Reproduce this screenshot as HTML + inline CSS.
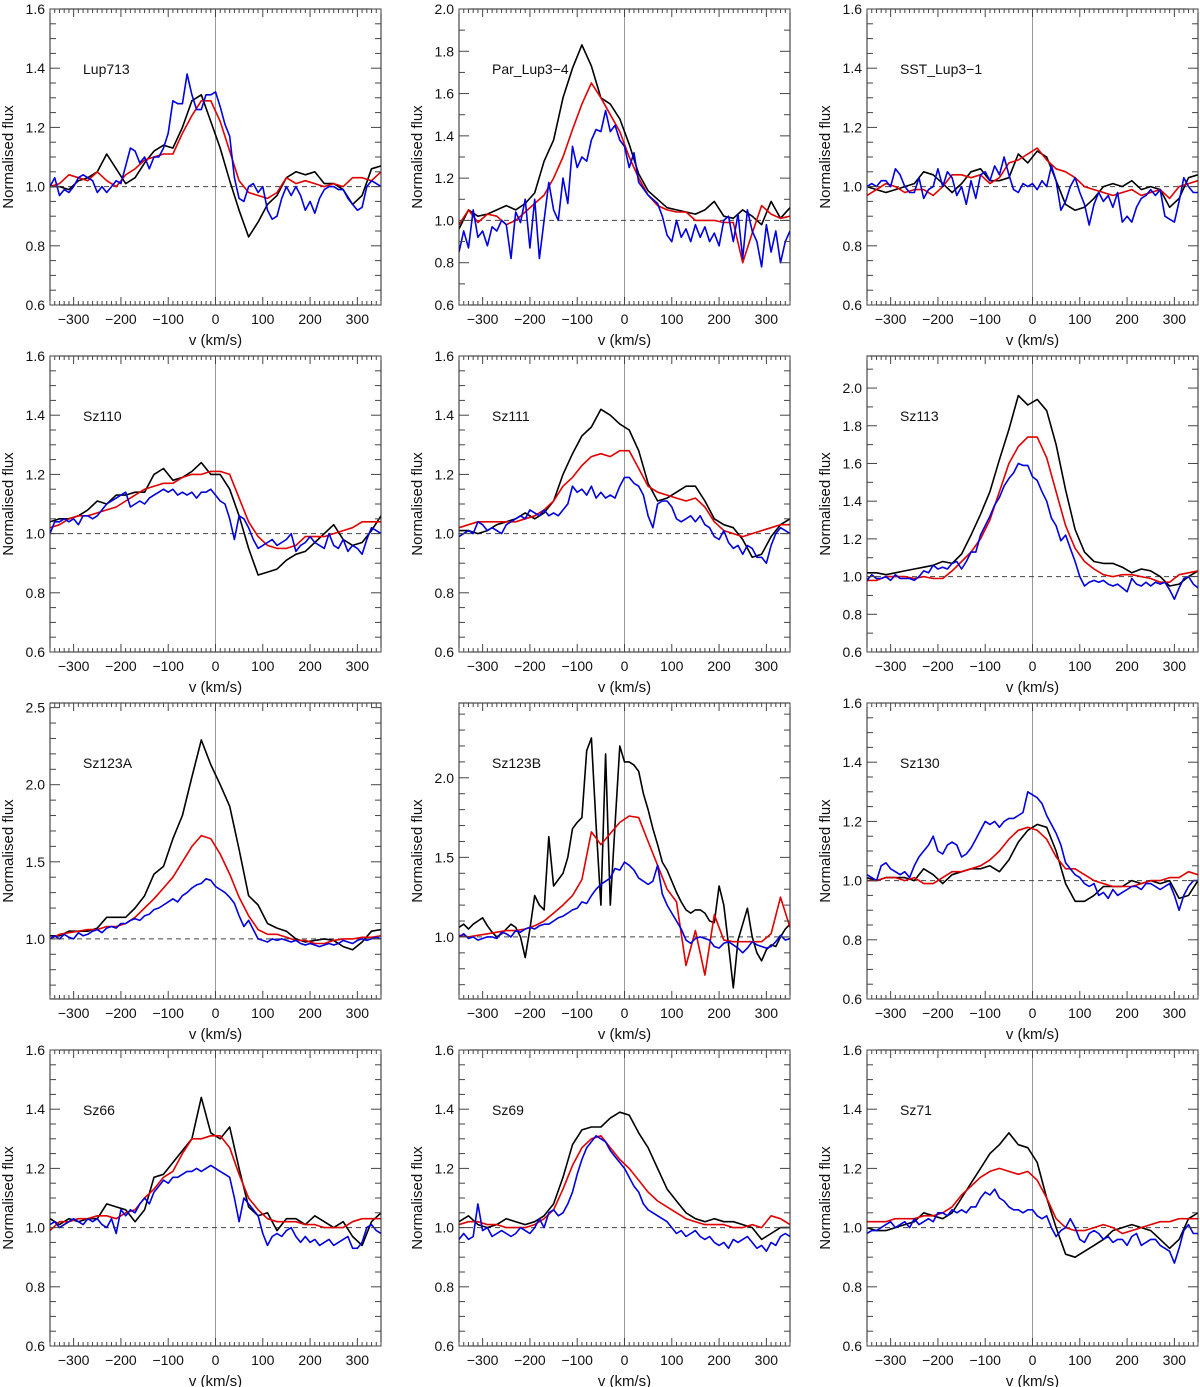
<!DOCTYPE html>
<html><head><meta charset="utf-8"><title>Line profiles</title>
<style>
html,body{margin:0;padding:0;background:#fff;}
svg{display:block;font-family:"Liberation Sans",sans-serif;}
</style></head>
<body>
<svg id="chart" width="1200" height="1387" viewBox="0 0 1200 1387" xmlns="http://www.w3.org/2000/svg"></svg>
<script>
// ---- data (velocity grid -350..350, step derived from array length) ----
const names = ["Lup713","Par_Lup3\u22124","SST_Lup3\u22121","Sz110","Sz111","Sz113","Sz123A","Sz123B","Sz130","Sz66","Sz69","Sz71"];
const yMins = [0.6,0.6,0.6,0.6,0.6,0.6,0.61,0.61,0.6,0.6,0.6,0.6];
const yMaxs = [1.6,2.0,1.6,1.6,1.6,2.17,2.53,2.47,1.6,1.6,1.6,1.6];
const yLabelStep = [0.2,0.2,0.2,0.2,0.2,0.2,0.5,0.5,0.2,0.2,0.2,0.2];
const yMinorStep = [0.05,0.1,0.05,0.05,0.05,0.1,0.1,0.1,0.05,0.05,0.05,0.05];
const xTicks = [-300,-200,-100,0,100,200,300];

const black0=[1.0,1.0,0.99,1.02,1.03,1.05,1.11,1.06,1.01,1.03,1.08,1.12,1.14,1.13,1.2,1.29,1.31,1.22,1.13,1.02,0.92,0.83,0.88,0.94,0.97,1.03,1.05,1.04,1.05,1.01,1.01,0.99,0.94,0.97,1.06,1.07];
const red0=[1.0,1.01,1.04,1.03,1.02,1.05,1.02,1.0,1.04,1.06,1.09,1.1,1.11,1.11,1.18,1.24,1.29,1.29,1.22,1.12,1.02,0.98,0.97,0.96,0.98,1.03,1.01,1.02,1.01,1.0,1.01,1.0,1.03,1.03,1.02,1.05];
const blue0=[1.0,1.03,0.97,0.99,0.98,1.0,1.03,1.04,1.03,1.02,0.98,1.0,0.98,1.0,1.02,1.01,1.07,1.13,1.12,1.08,1.1,1.06,1.1,1.1,1.13,1.18,1.29,1.28,1.28,1.38,1.31,1.26,1.26,1.31,1.31,1.32,1.27,1.21,1.17,1.03,0.96,0.95,1.0,1.01,0.98,1.0,0.92,0.89,0.9,0.96,1.0,0.97,1.0,0.97,0.92,0.95,0.91,0.96,0.99,1.0,1.0,0.99,0.99,0.96,0.94,0.92,0.93,1.0,1.02,1.01,1.0];

const black1=[0.96,1.05,1.02,1.03,1.05,1.07,1.05,1.08,1.13,1.28,1.38,1.58,1.72,1.83,1.73,1.58,1.55,1.48,1.36,1.22,1.14,1.1,1.06,1.05,1.04,1.03,1.05,1.09,1.02,1.01,1.05,1.02,0.98,1.09,1.01,1.06];
const red1=[0.98,1.05,0.99,1.03,1.02,0.98,1.0,1.04,1.08,1.12,1.2,1.3,1.43,1.55,1.65,1.58,1.5,1.42,1.3,1.2,1.12,1.07,1.05,1.04,1.04,1.0,1.0,1.0,0.99,0.99,0.8,0.94,1.07,1.03,1.01,1.02];
const blue1=[0.85,0.95,0.87,1.05,0.92,0.95,0.88,0.97,0.95,1.0,0.98,0.82,1.04,0.99,1.1,0.87,1.1,0.82,1.0,1.18,1.05,1.0,1.2,1.08,1.35,1.25,1.3,1.28,1.38,1.43,1.42,1.52,1.42,1.45,1.38,1.35,1.25,1.32,1.18,1.15,1.12,1.1,1.08,1.02,0.93,0.9,1.0,0.92,0.96,0.9,0.98,0.92,0.97,0.9,0.94,0.88,1.0,1.02,0.9,1.03,0.82,1.05,0.95,0.9,0.78,0.98,0.85,0.95,0.8,0.9,0.95];

const black2=[1.0,0.99,0.98,0.99,1.0,1.01,1.05,1.04,1.01,0.98,1.01,1.05,1.06,1.02,1.02,1.03,1.11,1.08,1.12,1.1,1.02,0.94,0.92,0.93,0.96,1.0,1.01,1.0,1.02,0.99,1.0,0.99,0.93,0.96,1.03,1.04];
const red2=[0.97,0.99,1.01,1.0,0.98,0.99,0.99,0.97,1.0,1.04,1.04,1.03,1.04,1.01,1.03,1.08,1.09,1.11,1.13,1.09,1.06,1.05,1.03,1.0,0.99,0.98,0.97,0.98,0.99,0.97,0.98,0.99,0.96,1.0,1.01,1.02];
const blue2=[1.0,1.01,1.0,1.02,1.02,1.0,1.06,1.04,1.0,0.98,0.98,1.03,0.96,0.99,1.0,1.06,1.0,1.05,1.03,0.97,1.0,0.94,1.02,0.96,1.04,1.05,1.02,1.07,1.04,1.1,1.04,0.99,0.98,1.01,1.0,1.01,0.99,1.02,1.0,1.07,1.02,0.92,0.95,1.0,1.03,0.98,0.94,0.87,0.94,0.98,0.95,0.97,0.93,0.98,0.88,0.9,0.88,0.93,0.96,0.97,0.99,0.97,0.99,0.9,0.89,0.88,0.95,1.03,1.0,0.98,0.98];

const black3=[1.04,1.05,1.05,1.06,1.08,1.11,1.1,1.13,1.13,1.14,1.14,1.2,1.22,1.18,1.19,1.21,1.24,1.2,1.2,1.15,1.06,0.95,0.86,0.87,0.88,0.91,0.93,0.94,0.97,1.0,1.03,0.98,0.96,0.97,1.01,1.06];
const red3=[1.02,1.03,1.05,1.06,1.06,1.07,1.08,1.09,1.11,1.13,1.15,1.16,1.17,1.17,1.19,1.2,1.2,1.21,1.21,1.2,1.12,1.04,0.99,0.96,0.95,0.95,0.96,0.99,0.99,0.99,1.0,1.01,1.02,1.04,1.04,1.04];
const blue3=[1.0,1.04,1.04,1.05,1.04,1.05,1.03,1.06,1.06,1.05,1.06,1.08,1.1,1.11,1.12,1.13,1.14,1.09,1.1,1.11,1.1,1.12,1.13,1.14,1.15,1.14,1.15,1.13,1.14,1.13,1.14,1.12,1.14,1.14,1.15,1.13,1.11,1.1,1.05,0.98,1.06,1.05,1.02,0.98,0.95,0.96,0.97,0.98,0.96,0.97,0.98,1.0,0.94,0.96,0.97,0.99,0.97,0.96,0.95,1.0,0.96,0.95,0.98,0.94,0.96,0.95,0.93,0.98,1.02,1.01,1.0];

const black4=[1.01,1.01,1.0,1.01,1.03,1.04,1.05,1.07,1.05,1.07,1.11,1.2,1.27,1.33,1.36,1.42,1.4,1.37,1.35,1.28,1.17,1.11,1.12,1.14,1.16,1.16,1.11,1.05,1.03,1.02,0.98,0.92,0.93,0.99,1.03,1.05];
const red4=[1.02,1.03,1.04,1.04,1.04,1.04,1.04,1.05,1.06,1.08,1.11,1.16,1.19,1.23,1.26,1.27,1.26,1.28,1.28,1.22,1.16,1.14,1.13,1.12,1.11,1.12,1.09,1.04,1.01,1.0,0.99,1.0,1.01,1.02,1.03,1.03];
const blue4=[0.99,1.0,1.01,1.0,1.04,1.03,1.01,1.02,1.01,1.0,1.03,1.04,1.05,1.06,1.05,1.08,1.07,1.06,1.08,1.06,1.07,1.06,1.08,1.1,1.16,1.14,1.15,1.13,1.16,1.12,1.14,1.12,1.13,1.12,1.16,1.19,1.19,1.17,1.16,1.13,1.06,1.02,1.1,1.11,1.11,1.09,1.05,1.04,1.05,1.06,1.04,1.06,1.03,1.02,0.99,0.98,1.01,0.97,0.95,0.96,0.93,0.96,0.95,0.92,0.92,0.9,0.96,1.0,1.02,1.01,1.0];

const black5=[1.02,1.02,1.01,1.02,1.03,1.04,1.05,1.06,1.08,1.07,1.12,1.22,1.33,1.45,1.62,1.78,1.96,1.91,1.94,1.88,1.7,1.46,1.25,1.13,1.08,1.07,1.07,1.05,1.02,1.04,1.03,1.0,0.95,0.96,1.0,1.03];
const red5=[0.98,0.98,1.0,1.0,1.0,0.99,1.0,0.99,0.99,1.03,1.08,1.13,1.2,1.3,1.45,1.6,1.69,1.74,1.74,1.63,1.45,1.27,1.15,1.08,1.04,1.01,1.0,1.01,1.01,1.0,0.99,0.97,0.97,1.01,1.02,1.03];
const blue5=[0.98,1.01,0.99,0.99,1.0,0.98,1.01,0.99,0.99,0.99,0.98,1.0,1.03,1.02,1.06,1.04,1.05,1.04,1.07,1.08,1.04,1.08,1.13,1.13,1.22,1.27,1.32,1.38,1.42,1.48,1.52,1.55,1.6,1.59,1.59,1.53,1.51,1.45,1.4,1.31,1.27,1.19,1.22,1.15,1.08,1.0,0.95,0.97,0.98,0.97,0.98,0.96,0.95,0.96,0.94,0.92,0.99,0.96,0.95,0.97,0.95,0.97,0.96,0.97,0.93,0.88,0.94,0.99,1.0,0.96,0.94];

const black6=[1.02,1.02,1.05,1.05,1.05,1.07,1.14,1.14,1.14,1.2,1.28,1.42,1.47,1.65,1.8,2.05,2.29,2.13,2.0,1.86,1.58,1.28,1.22,1.1,1.07,1.05,1.0,0.98,0.99,1.0,0.99,0.95,0.93,0.98,1.05,1.06];
const red6=[1.0,1.03,1.04,1.05,1.06,1.06,1.08,1.08,1.1,1.14,1.2,1.26,1.33,1.4,1.5,1.6,1.67,1.65,1.55,1.42,1.27,1.15,1.06,1.03,1.03,1.01,0.99,0.99,0.97,0.97,0.99,1.0,1.0,1.01,1.01,1.02];
const blue6=[1.0,1.02,1.0,1.03,1.01,1.0,1.04,1.02,1.03,1.05,1.06,1.04,1.07,1.08,1.07,1.1,1.1,1.12,1.13,1.12,1.15,1.16,1.19,1.2,1.22,1.24,1.26,1.24,1.28,1.3,1.33,1.35,1.36,1.39,1.38,1.34,1.32,1.3,1.27,1.23,1.15,1.08,1.12,1.06,1.0,0.99,0.98,1.0,0.99,1.0,0.99,0.98,0.99,0.97,0.96,0.97,0.96,0.95,0.96,0.97,0.96,0.97,0.99,0.98,0.97,0.99,1.0,0.99,1.0,1.01,1.0];

const black7=[1.06,1.08,1.05,1.08,1.1,1.12,1.07,1.03,1.0,1.02,1.05,1.08,1.06,1.0,0.87,1.05,1.26,1.2,1.17,1.63,1.32,1.36,1.4,1.5,1.68,1.72,1.75,2.17,2.25,1.7,1.2,2.15,1.2,1.7,2.2,2.1,2.1,2.08,2.04,1.9,1.8,1.68,1.58,1.47,1.42,1.35,1.28,1.22,1.17,1.15,1.17,1.17,1.15,1.1,1.09,1.32,1.2,0.95,0.68,0.98,1.08,1.18,1.0,0.9,0.85,0.92,0.95,0.94,1.0,1.05,1.08];
const red7=[1.01,1.0,1.01,1.02,1.03,1.04,1.04,1.05,1.07,1.1,1.15,1.2,1.26,1.36,1.66,1.58,1.65,1.72,1.76,1.75,1.6,1.45,1.3,1.22,0.82,1.04,0.76,1.14,0.98,0.97,0.97,0.97,0.97,1.02,1.25,1.06];
const blue7=[1.0,1.02,0.99,1.0,0.98,0.99,1.0,1.0,0.99,1.03,1.02,1.0,1.04,1.03,1.05,1.06,1.05,1.07,1.08,1.08,1.1,1.12,1.13,1.15,1.17,1.18,1.22,1.21,1.26,1.3,1.33,1.35,1.37,1.43,1.42,1.47,1.45,1.42,1.37,1.35,1.33,1.35,1.45,1.27,1.2,1.15,1.1,1.05,0.98,0.96,0.99,1.0,0.99,0.98,0.94,0.93,0.96,0.97,0.95,0.93,0.9,0.93,0.97,0.95,0.94,0.93,0.94,0.97,1.01,0.98,0.99];

const black8=[1.01,1.0,1.01,1.01,1.01,1.0,1.04,1.02,0.99,1.02,1.03,1.04,1.04,1.05,1.03,1.07,1.13,1.17,1.19,1.18,1.1,0.99,0.93,0.93,0.95,0.98,0.98,0.98,1.0,0.99,1.0,0.99,1.0,0.94,0.95,1.0];
const red8=[1.0,1.0,1.01,1.01,1.0,1.01,0.99,0.99,1.01,1.03,1.03,1.04,1.05,1.07,1.1,1.14,1.17,1.18,1.17,1.14,1.08,1.04,1.04,1.02,1.0,0.99,0.98,0.98,0.98,0.99,1.0,1.0,1.01,1.01,1.03,1.02];
const blue8=[1.02,1.01,1.0,1.05,1.06,1.04,1.03,1.02,1.03,1.01,1.05,1.08,1.1,1.12,1.15,1.1,1.09,1.12,1.13,1.12,1.08,1.09,1.11,1.14,1.17,1.2,1.19,1.2,1.18,1.2,1.21,1.21,1.22,1.23,1.3,1.29,1.28,1.26,1.22,1.19,1.16,1.12,1.06,1.04,1.02,1.01,0.99,0.98,0.99,0.95,0.96,0.94,0.97,0.95,0.96,0.97,0.98,0.98,0.97,0.99,0.99,0.98,0.97,0.98,0.99,0.95,0.9,0.95,0.98,1.0,1.0];

const black9=[1.03,1.01,1.03,1.02,1.03,1.03,1.08,1.07,1.06,1.02,1.06,1.17,1.18,1.22,1.26,1.3,1.44,1.32,1.3,1.34,1.2,1.07,1.04,1.05,0.99,1.03,1.03,1.01,1.04,1.02,1.0,1.02,0.97,0.94,1.02,1.05];
const red9=[0.99,1.02,1.02,1.03,1.03,1.04,1.04,1.03,1.05,1.06,1.1,1.13,1.17,1.19,1.25,1.3,1.3,1.31,1.31,1.27,1.18,1.1,1.06,1.03,1.02,1.02,1.02,1.01,1.01,1.0,1.0,1.0,1.02,1.03,1.03,1.03];
const blue9=[1.01,1.02,1.0,1.01,1.02,1.03,1.02,1.01,1.03,1.02,1.03,1.01,1.0,1.03,0.98,1.06,1.04,1.06,1.05,1.08,1.1,1.08,1.12,1.14,1.16,1.15,1.17,1.17,1.18,1.19,1.19,1.2,1.19,1.2,1.21,1.2,1.19,1.18,1.17,1.1,1.02,1.1,1.08,1.06,1.04,0.98,0.94,0.97,0.98,0.97,0.99,1.0,0.97,0.95,0.97,0.95,0.96,0.94,0.95,0.96,0.94,0.95,0.96,0.97,0.93,0.93,0.95,1.0,1.01,0.99,0.98];

const black10=[1.02,1.04,1.01,1.0,1.01,1.03,1.02,1.01,1.02,1.04,1.08,1.17,1.28,1.33,1.34,1.34,1.37,1.39,1.38,1.32,1.27,1.2,1.13,1.09,1.05,1.03,1.02,1.03,1.02,1.02,1.01,1.0,0.96,0.98,1.0,1.0];
const red10=[1.01,1.02,1.02,1.01,1.01,1.0,1.0,1.0,1.01,1.03,1.06,1.13,1.21,1.27,1.3,1.31,1.27,1.23,1.2,1.16,1.12,1.09,1.07,1.05,1.03,1.02,1.01,1.01,1.01,1.0,1.0,1.01,1.0,1.04,1.03,1.01];
const blue10=[0.96,0.98,0.96,0.97,1.08,0.99,1.0,0.97,0.98,0.99,0.98,0.97,0.98,1.0,0.99,0.98,1.0,1.03,1.0,1.05,1.06,1.04,1.05,1.08,1.12,1.18,1.23,1.27,1.29,1.31,1.3,1.29,1.26,1.24,1.22,1.2,1.17,1.14,1.12,1.08,1.06,1.05,1.04,1.03,1.02,1.0,0.98,0.99,0.97,0.98,0.99,0.97,0.96,0.97,0.95,0.94,0.95,0.93,0.96,0.95,0.96,0.97,0.95,0.93,0.94,0.92,0.95,0.94,0.97,0.98,0.97];

const black11=[1.0,0.99,0.99,1.0,1.01,1.02,1.05,1.04,1.03,1.05,1.1,1.15,1.2,1.25,1.28,1.32,1.28,1.27,1.22,1.1,1.0,0.91,0.9,0.92,0.94,0.96,0.99,1.0,1.01,1.0,0.99,0.96,0.93,0.96,1.03,1.05];
const red11=[1.02,1.02,1.02,1.03,1.03,1.03,1.04,1.04,1.05,1.07,1.11,1.14,1.17,1.19,1.2,1.19,1.18,1.19,1.16,1.1,1.03,1.0,0.99,0.99,1.0,1.01,1.0,0.98,0.99,1.0,1.01,1.02,1.02,1.03,1.03,1.03];
const blue11=[0.98,0.99,0.99,1.0,1.01,1.02,1.0,1.01,1.02,1.0,1.03,1.01,1.02,1.03,1.02,1.05,1.05,1.04,1.06,1.05,1.06,1.05,1.07,1.07,1.1,1.12,1.11,1.13,1.1,1.09,1.07,1.06,1.06,1.05,1.06,1.06,1.04,1.03,1.04,1.0,0.97,0.99,1.0,1.03,1.0,0.96,0.95,0.98,0.99,0.98,0.96,0.97,0.95,0.96,0.96,0.94,0.97,0.98,0.94,0.95,0.96,0.96,0.94,0.93,0.92,0.88,0.93,0.99,1.01,0.98,0.98];

const blackSeries=[black0,black1,black2,black3,black4,black5,black6,black7,black8,black9,black10,black11];
const redSeries=[red0,red1,red2,red3,red4,red5,red6,red7,red8,red9,red10,red11];
const blueSeries=[blue0,blue1,blue2,blue3,blue4,blue5,blue6,blue7,blue8,blue9,blue10,blue11];

// ---- layout ----
const NS="http://www.w3.org/2000/svg";
const svg=document.getElementById('chart');
const colLeft=[50,459,867], rowTop=[9,356,703,1050], PW=331, PH=296;
const VMIN=-350, VMAX=350;
function mk(tag,attrs,parent){const e=document.createElementNS(NS,tag);for(const k in attrs)e.setAttribute(k,attrs[k]);parent.appendChild(e);return e;}
function fmt(v){return v<0?"\u2212"+Math.abs(v):String(v);}

names.forEach((nm,i)=>{
  const L=colLeft[i%3], T=rowTop[Math.floor(i/3)], R=L+PW, B=T+PH;
  const y0=yMins[i], y1=yMaxs[i];
  const xs=v=>L+(v-VMIN)/(VMAX-VMIN)*PW;
  const ys=f=>B-(f-y0)/(y1-y0)*PH;
  const g=mk('g',{},svg);
  
  
  const clipId='clip'+i;
  const cp=mk('clipPath',{id:clipId},g); mk('rect',{x:L,y:T,width:PW,height:PH},cp);

  // zero line and continuum
  const zl=mk('line',{x1:xs(0),x2:xs(0),y1:T,y2:B,stroke:'#999','stroke-width':1},g);
   
  const cl=mk('line',{x1:L,x2:R,y1:ys(1),y2:ys(1),stroke:'#444','stroke-width':1,'stroke-dasharray':'5,4'},g);
   

  // series
  [[blackSeries[i],'#000','black'],[redSeries[i],'#e00000','red'],[blueSeries[i],'#0000e0','blue']].forEach(([arr,col,nmS])=>{
    const step=(VMAX-VMIN)/(arr.length-1);
    const pts=arr.map((f,k)=>xs(VMIN+k*step).toFixed(1)+','+ys(f).toFixed(1)).join(' ');
    const pl=mk('polyline',{points:pts,fill:'none',stroke:col,'stroke-width':1.6,'stroke-linejoin':'round','clip-path':'url(#'+clipId+')'},g);
    
    
  });

  // frame
  const fr=mk('rect',{x:L,y:T,width:PW,height:PH,fill:'none',stroke:'#222','stroke-width':1},g);
   

  // x ticks
  for(let v=VMIN;v<=VMAX;v+=10){
    const major=(v%100===0); const len=major?8:4; const x=xs(v);
    mk('line',{x1:x,x2:x,y1:B,y2:B-len,stroke:'#444','stroke-width':1},g);
    mk('line',{x1:x,x2:x,y1:T,y2:T+len,stroke:'#444','stroke-width':1},g);
  }
  xTicks.forEach(v=>{
    const t=mk('text',{x:xs(v),y:B+19,'font-size':14,'text-anchor':'middle',fill:'#111'},g);
    t.textContent=fmt(v);
     
  });
  // y ticks
  const mn=yMinorStep[i], lab=yLabelStep[i];
  for(let k=Math.ceil(y0/mn-1e-6);k*mn<=y1+1e-6;k++){
    const f=k*mn; const isLab=Math.abs(f/lab-Math.round(f/lab))<1e-6;
    const len=isLab?10:6; const y=ys(f);
    mk('line',{x1:L,x2:L+len,y1:y,y2:y,stroke:'#444','stroke-width':1},g);
    mk('line',{x1:R,x2:R-len,y1:y,y2:y,stroke:'#444','stroke-width':1},g);
    if(isLab){
      const t=mk('text',{x:L-5,y:y+5,'font-size':14,'text-anchor':'end',fill:'#111'},g);
      t.textContent=f.toFixed(1);
       
    }
  }
  // titles
  const xt=mk('text',{x:L+PW/2,y:B+40,'font-size':15,'text-anchor':'middle',fill:'#111'},g);
  xt.textContent='v (km/s)';
   
  const yc=T+PH/2, yx=L-37;
  const yt=mk('text',{x:yx,y:yc,'font-size':15,'text-anchor':'middle',fill:'#111',transform:'rotate(-90 '+yx+' '+yc+')'},g);
  yt.textContent='Normalised flux';
   
  const nt=mk('text',{x:L+33,y:T+65,'font-size':14,fill:'#111'},g);
  nt.textContent=nm;
   
});
</script>
</body></html>
